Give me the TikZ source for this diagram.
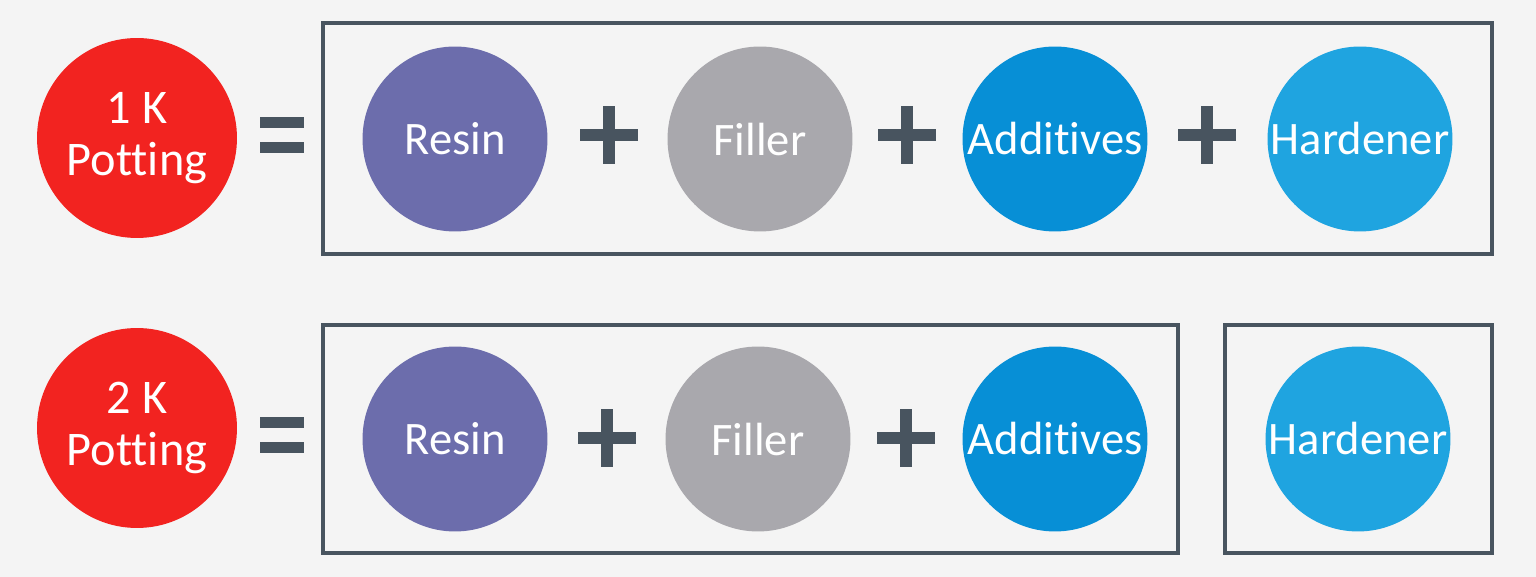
\documentclass[tikz,border=0pt]{standalone}
\usepackage{fontspec}
\setmainfont[Ligatures={NoCommon}]{Carlito}
\definecolor{bgGray}{HTML}{F4F4F4}
\definecolor{potRed}{HTML}{F22320}
\definecolor{resinPurple}{HTML}{6C6DAC}
\definecolor{fillerGray}{HTML}{A9A8AD}
\definecolor{addBlue}{HTML}{078FD6}
\definecolor{hardBlue}{HTML}{1FA4E0}
\definecolor{slate}{HTML}{48545F}
\def\drawPlus(#1,#2){
\fill[slate] (#1-29,#2-6) rectangle (#1+29,#2+6);
\fill[slate] (#1-6,#2-29) rectangle (#1+6,#2+29);
}
\def\drawEquals(#1,#2){
\fill[slate] (#1-22,#2-18) rectangle (#1+22,#2-7);
\fill[slate] (#1-22,#2+7) rectangle (#1+22,#2+18);
}

\begin{document}
\begin{tikzpicture}[x=0.02cm, y=-0.02cm,
  potting/.style={circle, fill=potRed, minimum size=4cm, inner sep=0pt, text=white,
    align=center, font=\fontsize{27.5}{30}\selectfont},
  part/.style={circle, minimum size=3.7cm, inner sep=0pt, text=white,
    font=\fontsize{26.5}{30}\selectfont},
  frame/.style={draw=slate, line width=2.1pt}]
  \fill[bgGray] (0,0) rectangle (1536,577);
  \useasboundingbox (0,0) rectangle (1536,577);
  % 1K row
  \node[potting] (pot1) at (137,138) {1 K\\Potting};
  \drawEquals(282,135)
  \draw[frame] (323,23) rectangle (1492,254);
  \node[part, fill=resinPurple] (resin1) at (455,139) {Resin};
  \drawPlus(609,135)
  \node[part, fill=fillerGray] (filler1) at (760,139) {Filler};
  \drawPlus(907,135)
  \node[part, fill=addBlue] (add1) at (1055,139) {Additives};
  \drawPlus(1207,135)
  \node[part, fill=hardBlue] (hard1) at (1360,139) {Hardener};
  % 2K row
  \node[potting] (pot2) at (137,428) {2 K\\Potting};
  \drawEquals(282,435)
  \draw[frame] (323,325) rectangle (1178,553);
  \node[part, fill=resinPurple] (resin2) at (455,439) {Resin};
  \drawPlus(607,438)
  \node[part, fill=fillerGray] (filler2) at (758,439) {Filler};
  \drawPlus(906,438)
  \node[part, fill=addBlue] (add2) at (1055,439) {Additives};
  \draw[frame] (1225,325) rectangle (1492,553);
  \node[part, fill=hardBlue] (hard2) at (1358,439) {Hardener};
\end{tikzpicture}
\end{document}
